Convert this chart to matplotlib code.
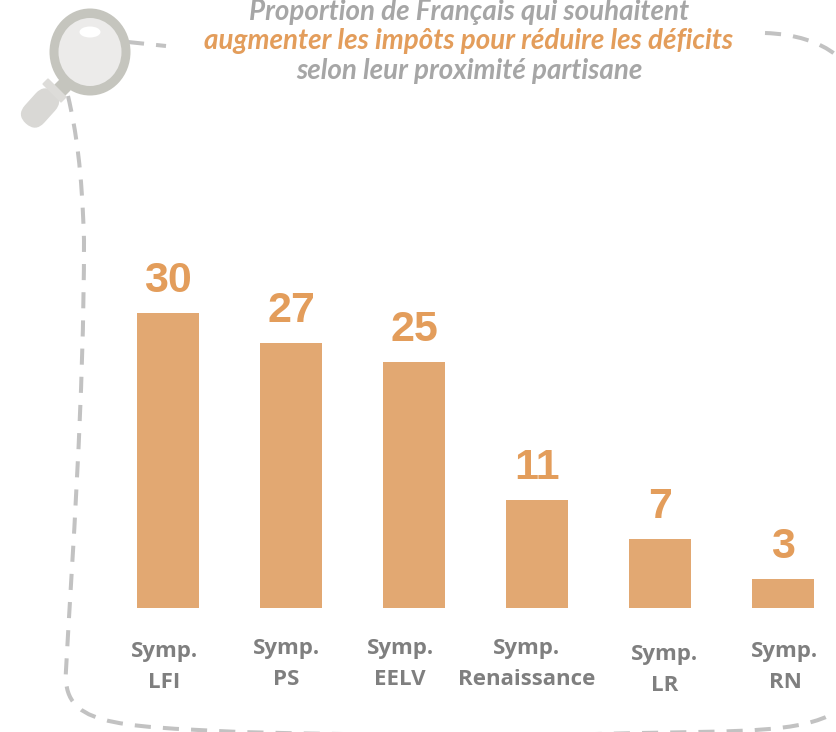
import matplotlib
matplotlib.use("Agg")
import matplotlib.pyplot as plt
from matplotlib.patches import Ellipse, FancyBboxPatch, PathPatch, Polygon
from matplotlib.path import Path
from matplotlib.transforms import Affine2D

categories = ["Symp.\nLFI", "Symp.\nPS", "Symp.\nEELV", "Symp.\nRenaissance", "Symp.\nLR", "Symp.\nRN"]
values = [30, 27, 25, 11, 7, 3]

BAR = "#E2A872"
ORANGE = "#E39D5B"
GREY_TITLE = "#A6A6A6"
GREY_LABEL = "#7F7F7F"
DASH = "#C2C2C2"

W, H = 836, 732
BASE_Y = 608
UNIT = 9.83
X0 = 168
STEP = 123

# label shifts in pixels, the labels are not aligned in the original
label_dx = [-4, -5, -14, -10, 5, 2]
label_dy = [59, 56, 56, 56, 62, 59]

fig = plt.figure(figsize=(W / 100, H / 100), dpi=100)

# bars: axes fills the figure, limits set so the baseline lands at y=608
ax = fig.add_axes([0, 0, 1, 1])
ax.set_xlim(-X0 / STEP, (W - X0) / STEP)
ax.set_ylim(-(H - BASE_Y) / UNIT, BASE_Y / UNIT)
ax.axis("off")
xs = list(range(len(values)))
ax.bar(xs, values, width=0.505, color=BAR)

for x, v in zip(xs, values):
    ax.annotate(str(v), (x, v), xytext=(0, 12), textcoords="offset pixels",
                ha="center", va="bottom", fontsize=31, fontweight="bold",
                family="Liberation Sans", color=ORANGE)

for x, name, dx, dy in zip(xs, categories, label_dx, label_dy):
    ax.annotate(name, (x, 0), xytext=(dx, -dy), textcoords="offset pixels",
                ha="center", va="center", fontsize=16, fontweight="bold",
                family="Open Sans", color=GREY_LABEL, linespacing=1.6)

# decoration layer in pixel coordinates
deco = fig.add_axes([0, 0, 1, 1])
deco.set_xlim(0, W)
deco.set_ylim(H, 0)
deco.axis("off")
deco.patch.set_alpha(0)

# title
title_lines = ["Proportion de Français qui souhaitent",
               "augmenter les impôts pour réduire les déficits",
               "selon leur proximité partisane"]
title_y = [12, 41, 71]
title_col = [GREY_TITLE, ORANGE, GREY_TITLE]
for line, y, c in zip(title_lines, title_y, title_col):
    deco.text(469, y, line, ha="center", va="center", fontsize=20,
              fontweight="bold", fontstyle="italic", family="Lato", color=c)

# dashed frame
dash_style = dict(fill=False, edgecolor=DASH, lw=2.9, linestyle=(0, (4, 3)), capstyle="butt")
left = Path([(68, 96), (76, 130), (82, 170), (84, 240),
             (84, 400), (72, 560), (66, 670),
             (62, 725), (110, 726), (240, 732),
             (400, 736), (520, 736), (640, 733),
             (740, 731), (800, 733), (836, 712)],
            [Path.MOVETO] + [Path.CURVE4] * 15)
deco.add_patch(PathPatch(left, **dash_style))
deco.add_patch(PathPatch(Path([(128, 42), (166, 46)]), **dash_style))
top_right = Path([(765, 33), (795, 34), (820, 42), (836, 55)],
                 [Path.MOVETO, Path.CURVE4, Path.CURVE4, Path.CURVE4])
deco.add_patch(PathPatch(top_right, **dash_style))

# magnifying glass
deco.add_patch(Polygon([(60, 80), (70, 90), (62, 98), (52, 88)], color="#C5C5BE"))
deco.add_patch(FancyBboxPatch((27, 87), 26, 42, boxstyle="round,pad=0,rounding_size=13",
                              color="#D9D8D5", lw=0,
                              transform=Affine2D().rotate_deg_around(40, 108, 42) + deco.transData))
deco.add_patch(Polygon([(48, 79), (66, 97), (61, 102), (43, 84)], color="#DDDCD9"))
deco.add_patch(Ellipse((90, 52), 81, 87, color="#C5C5BE", lw=0))
deco.add_patch(Ellipse((90, 52), 63, 68, color="#ECEBEA", lw=0))
deco.add_patch(Ellipse((90, 32), 21, 11, color="#FFFFFF", lw=0))

fig.savefig("out.png", dpi=100)
